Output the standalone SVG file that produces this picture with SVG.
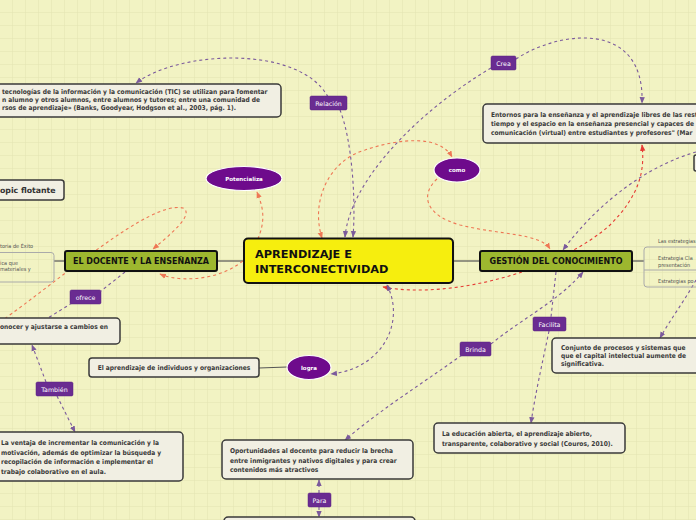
<svg xmlns="http://www.w3.org/2000/svg" width="696" height="520" viewBox="0 0 696 520">
<defs>
<pattern id="grid" width="13" height="13" patternUnits="userSpaceOnUse">
<rect width="13" height="13" fill="#f2f3c3"/>
<path d="M13 0V13M0 13H13" fill="none" stroke="#e3e4b2" stroke-width="1"/>
</pattern>
<marker id="ap" viewBox="0 0 10 10" refX="9" refY="5" markerWidth="6" markerHeight="6" orient="auto-start-reverse"><path d="M0,1L10,5L0,9z" fill="#7b5a9c"/></marker>
<marker id="ao" viewBox="0 0 10 10" refX="9" refY="5" markerWidth="6" markerHeight="6" orient="auto-start-reverse"><path d="M0,1L10,5L0,9z" fill="#ee7755"/></marker>
<marker id="ar" viewBox="0 0 10 10" refX="9" refY="5" markerWidth="6" markerHeight="6" orient="auto-start-reverse"><path d="M0,1L10,5L0,9z" fill="#e63b34"/></marker>
</defs>
<style>
.box{fill:#f1efe3;stroke:#3a3a3a;stroke-width:1.5}
.t{font-family:"DejaVu Sans Condensed","DejaVu Sans",sans-serif;font-weight:bold;font-size:6.6px;fill:#3a3a3a}
.lbl{fill:#6a2c91;stroke:#5a2080;stroke-width:0.5}
.lt{font-family:"DejaVu Sans","Noto Sans",sans-serif;font-size:6.3px;fill:#fff;text-anchor:middle}
.ell{fill:#6e0b8c;stroke:#fff;stroke-width:1.2}
.et{font-family:"DejaVu Sans",sans-serif;font-weight:bold;font-size:5.5px;fill:#fff;text-anchor:middle}
.main{fill:#9db72f;stroke:#111;stroke-width:2}
.mt{font-family:"DejaVu Sans",sans-serif;font-weight:bold;font-size:8px;fill:#111;text-anchor:middle}
.pd{fill:none;stroke:#7b5a9c;stroke-width:1.1;stroke-dasharray:3,3}
.od{fill:none;stroke:#ee7755;stroke-width:1.1;stroke-dasharray:3,3}
.rd{fill:none;stroke:#e63b34;stroke-width:1.1;stroke-dasharray:3,3}
.sl{stroke:#555;stroke-width:1.2;fill:none}
.sm{font-family:"DejaVu Sans Condensed","DejaVu Sans",sans-serif;font-size:5.5px;fill:#555}
</style>
<rect width="696" height="520" fill="url(#grid)"/>

<g id="connectors">
<line class="sl" x1="217" y1="261" x2="244" y2="261"/>
<line class="sl" x1="453" y1="261" x2="480" y2="261"/>
<line class="sl" x1="54" y1="261" x2="65" y2="261"/>
<line class="sl" x1="632" y1="261" x2="644" y2="261"/>
<line class="sl" x1="259" y1="368" x2="287" y2="367"/>
<path class="pd" d="M328,97 C300,45 180,50 136,83" marker-end="url(#ap)"/>
<path class="pd" d="M340,110 C352,140 356,200 353,237" marker-end="url(#ap)"/>
<path class="pd" d="M491,68 C420,110 350,180 345,237" marker-end="url(#ap)"/>
<path class="pd" d="M516,59 C560,30 645,20 642,103" marker-end="url(#ap)"/>
<path class="od" d="M322,238 C310,200 330,160 365,150 C400,138 440,135 452,157" marker-start="url(#ao)" marker-end="url(#ao)"/>
<path class="od" d="M437,179 C420,195 425,215 460,225 C500,235 540,233 550,249" marker-end="url(#ao)"/>
<path class="rd" d="M383,287 C450,300 560,270 610,225 C640,195 645,170 642,145" marker-start="url(#ar)" marker-end="url(#ar)"/>
<path class="od" d="M160,274 C185,285 240,278 255,245 C268,220 262,205 257,192" marker-start="url(#ao)" marker-end="url(#ao)"/>
<path class="od" d="M0,322 C60,280 150,200 183,208 C195,214 170,235 153,249" marker-end="url(#ao)"/>
<path class="pd" d="M125,272 L101,291"/>
<path class="pd" d="M72,303 L48,318"/>
<path class="pd" d="M46,382 L32,345" marker-end="url(#ap)"/>
<path class="pd" d="M57,396 L75,432" marker-end="url(#ap)"/>
<path class="pd" d="M387,285 C405,320 385,368 331,374" marker-start="url(#ap)" marker-end="url(#ap)"/>
<path class="pd" d="M583,272 C560,300 520,320 491,344" marker-start="url(#ap)"/>
<path class="pd" d="M462,355 C420,385 380,410 345,440" marker-end="url(#ap)"/>
<path class="pd" d="M556,272 L551,317"/>
<path class="pd" d="M549,331 C543,360 535,395 531,423" marker-end="url(#ap)"/>
<path class="pd" d="M696,152 C650,165 600,200 563,250" marker-end="url(#ap)"/>
<path class="pd" d="M696,280 C685,300 670,320 660,338" marker-end="url(#ap)"/>
<path class="pd" d="M319,493 L319,480" marker-end="url(#ap)"/>
<path class="pd" d="M319,507 L319,517" marker-end="url(#ap)"/>
</g>

<g id="central">
<rect x="244" y="238.5" width="209" height="44.5" rx="4" fill="#f6ee0e" stroke="#111" stroke-width="2"/>
<text x="255" y="258" font-family="DejaVu Sans,sans-serif" font-weight="bold" font-size="11.3" fill="#111">APRENDIZAJE E</text>
<text x="255" y="272.5" font-family="DejaVu Sans,sans-serif" font-weight="bold" font-size="11.3" fill="#111">INTERCONECTIVIDAD</text>
</g>

<g id="docente">
<rect class="main" x="65" y="251" width="152" height="20" rx="2"/>
<text class="mt" x="141" y="264">EL DOCENTE Y LA ENSEÑANZA</text>
</g>

<g id="gestion">
<rect class="main" x="480" y="251" width="152" height="20" rx="2"/>
<text class="mt" x="556" y="264">GESTIÓN DEL CONOCIMIENTO</text>
</g>

<g id="tic">
<rect class="box" x="-10" y="84" width="291" height="33" rx="4"/>
<text class="t" x="2" y="94">tecnologías de la información y la comunicación (TIC) se utilizan para fomentar</text>
<text class="t" x="2" y="102">n alumno y otros alumnos, entre alumnos y tutores; entre una comunidad de</text>
<text class="t" x="2" y="110">rsos de aprendizaje» (Banks, Goodyear, Hodgson et al., 2003, pág. 1).</text>
</g>

<g id="topic">
<rect class="box" x="-10" y="180" width="74" height="20" rx="3"/>
<text x="0" y="193" font-family="DejaVu Sans,sans-serif" font-weight="bold" font-size="7.8" fill="#333">opic flotante</text>
</g>

<g id="leftcluster">
<text class="sm" x="0" y="248">toria de Éxito</text>
<rect x="-10" y="252.5" width="64" height="29.5" rx="3" fill="none" stroke="#aaa" stroke-width="1"/>
<text class="sm" x="0" y="265">ica que</text>
<text class="sm" x="0" y="271">materiales y</text>
</g>

<g id="entornos">
<rect class="box" x="483" y="104" width="220" height="39" rx="4"/>
<text class="t" x="491" y="117">Entornos para la enseñanza y el aprendizaje libres de las rest</text>
<text class="t" x="491" y="126">tiempo y el espacio en la enseñanza presencial y capaces de</text>
<text class="t" x="491" y="135">comunicación (virtual) entre estudiantes y profesores" (Mar</text>
</g>

<g id="edge-node">
<rect x="694" y="155" width="6" height="16" rx="2" fill="#f1efe3" stroke="#3a3a3a" stroke-width="1.5"/>
</g>

<g id="rightcluster">
<text class="sm" x="658" y="243">Las estrategias</text>
<rect x="644" y="247" width="60" height="40" rx="3" fill="none" stroke="#aaa" stroke-width="1"/>
<line x1="644" y1="270" x2="696" y2="270" stroke="#aaa" stroke-width="1"/>
<text class="sm" x="658" y="260">Estrategia Cla</text>
<text class="sm" x="658" y="266.5">presentación</text>
<text class="sm" x="658" y="283">Estrategias po</text>
</g>

<g id="conjunto">
<rect class="box" x="552" y="338" width="150" height="35" rx="4"/>
<text class="t" x="561" y="350">Conjunto de procesos y sistemas que</text>
<text class="t" x="561" y="358">que el capital intelectual aumente de</text>
<text class="t" x="561" y="366">significativa.</text>
</g>

<g id="conocer">
<rect class="box" x="-10" y="318" width="130" height="26" rx="4"/>
<text class="t" x="0" y="329">onocer y ajustarse a cambios en</text>
</g>

<g id="aprendizaje">
<rect class="box" x="89" y="358" width="170" height="19" rx="3"/>
<text class="t" x="174" y="370" text-anchor="middle">El aprendizaje de individuos y organizaciones</text>
</g>

<g id="ventaja">
<rect class="box" x="-10" y="432" width="193" height="49" rx="4"/>
<text class="t" x="1" y="445">La ventaja de incrementar la comunicación y la</text>
<text class="t" x="1" y="454.5">motivación, además de optimizar la búsqueda y</text>
<text class="t" x="1" y="464">recopilación de información e implementar el</text>
<text class="t" x="1" y="473.5">trabajo colaborativo en el aula.</text>
</g>

<g id="oportunidades">
<rect class="box" x="222" y="440" width="191" height="39" rx="4"/>
<text class="t" x="230" y="453">Oportunidades al docente para reducir la brecha</text>
<text class="t" x="230" y="463">entre inmigrantes y nativos digitales y para crear</text>
<text class="t" x="230" y="472">contenidos más atractivos</text>
</g>

<g id="bottombox">
<rect class="box" x="224" y="517" width="191" height="20" rx="4"/>
</g>

<g id="educacion">
<rect class="box" x="434" y="423" width="191" height="30" rx="4"/>
<text class="t" x="442" y="436">La educación abierta, el aprendizaje abierto,</text>
<text class="t" x="442" y="446">transparente, colaborativo y social (Couros, 2010).</text>
</g>

<g id="lbl-relacion"><rect class="lbl" x="310" y="96" width="37" height="14" rx="1.5"/><text class="lt" x="328.5" y="105.5">Relación</text></g>
<g id="lbl-crea"><rect class="lbl" x="491" y="56" width="25" height="14" rx="1.5"/><text class="lt" x="503.5" y="65.5">Crea</text></g>
<g id="lbl-ofrece"><rect class="lbl" x="70" y="290" width="31" height="14" rx="1.5"/><text class="lt" x="85.5" y="299.5">ofrece</text></g>
<g id="lbl-tambien"><rect class="lbl" x="36" y="382" width="37" height="14" rx="1.5"/><text class="lt" x="54.5" y="391.5">También</text></g>
<g id="lbl-brinda"><rect class="lbl" x="460" y="342" width="31" height="14" rx="1.5"/><text class="lt" x="475.5" y="351.5">Brinda</text></g>
<g id="lbl-facilita"><rect class="lbl" x="533" y="317" width="33" height="14" rx="1.5"/><text class="lt" x="549.5" y="326.5">Facilita</text></g>
<g id="lbl-para"><rect class="lbl" x="308" y="493" width="23" height="14" rx="1.5"/><text class="lt" x="319.5" y="502.5">Para</text></g>

<g id="potencializa"><ellipse class="ell" cx="244" cy="178.5" rx="38" ry="12"/><text class="et" x="244" y="180.5">Potencializa</text></g>
<g id="como"><ellipse class="ell" cx="457" cy="170" rx="23" ry="12"/><text class="et" x="457" y="172">como</text></g>
<g id="logra"><ellipse class="ell" cx="309" cy="367.5" rx="22" ry="12"/><text class="et" x="309" y="369.5">logra</text></g>
</svg>
